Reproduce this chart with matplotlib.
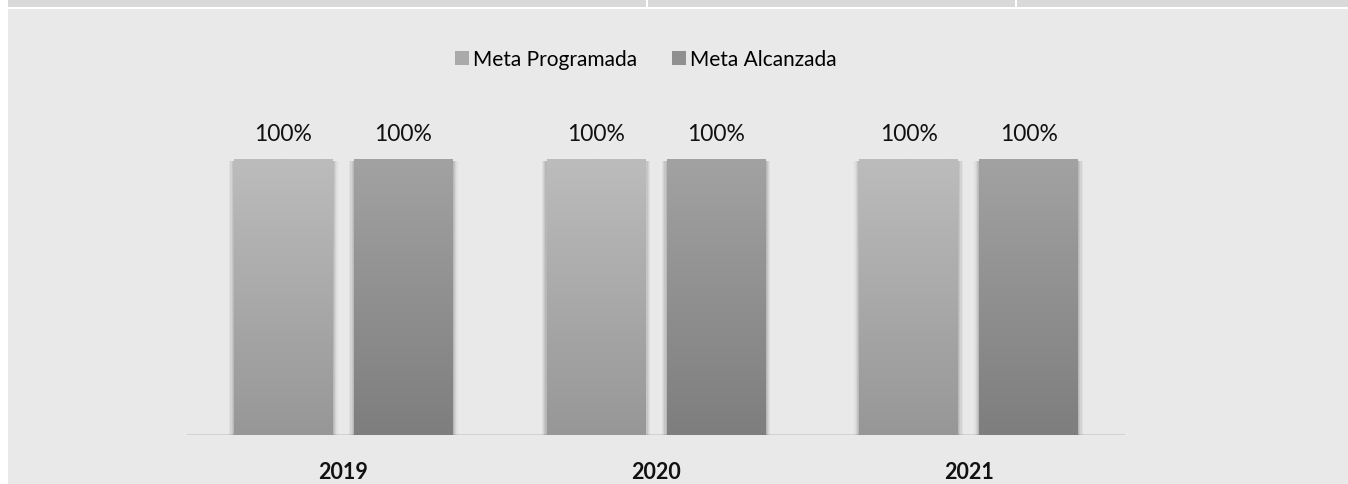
import numpy as np
import matplotlib.pyplot as plt
from matplotlib.patches import Rectangle

# ---- data ----
years = ["2019", "2020", "2021"]
series_names = ["Meta Programada", "Meta Alcanzada"]
meta_programada = [1.00, 1.00, 1.00]
meta_alcanzada = [1.00, 1.00, 1.00]
value_labels = ["100%", "100%", "100%"]

# gradient colours (top, bottom) per series
grad_colors = [("#bcbcbc", "#979797"), ("#a2a2a2", "#7e7e7e")]

plt.rcParams['font.family'] = ['Lato', 'DejaVu Sans']

W, H = 1348, 485
fig = plt.figure(figsize=(W / 100, H / 100), dpi=100)
fig.patch.set_facecolor("white")

# page decoration: table strip on top and the chart background
def px_rect(x0, y0, x1, y1, color, z=-10):
    fig.patches.append(Rectangle((x0 / W, 1 - y1 / H), (x1 - x0) / W, (y1 - y0) / H,
                                 transform=fig.transFigure, facecolor=color,
                                 edgecolor="none", zorder=z))

px_rect(8, 0, 1348, 8, "#d9d9d9")
px_rect(646, 0, 648, 8, "white", z=-9)
px_rect(1015, 0, 1017, 8, "white", z=-9)
px_rect(8, 10, 1348, 485, "#e9e9e9")

ax = fig.add_axes([187 / W, (H - 436) / H, 938 / W, (436 - 104.8) / H])
ax.set_facecolor("none")
ax.set_zorder(5)

x = np.arange(len(years))
width = 0.315
offsets = [-0.192, 0.192]

def gradient_bar(xc, h, top, bottom):
    x0, x1 = xc - width / 2, xc + width / 2
    # soft shadow
    for i, a in enumerate([0.04, 0.05, 0.06, 0.07]):
        d = 0.004 * (4 - i)
        ax.add_patch(Rectangle((x0 - d, -0.012), (x1 - x0) + 2 * d, h + 0.006,
                               facecolor="black", alpha=a, edgecolor="none", zorder=1))
    c0 = np.array(plt.matplotlib.colors.to_rgb(top))
    c1 = np.array(plt.matplotlib.colors.to_rgb(bottom))
    t = np.linspace(0, 1, 128)[:, None]
    img = (c0 * (1 - t) + c1 * t)[:, None, :]
    ax.imshow(img, extent=[x0, x1, 0, h], origin="upper", aspect="auto", zorder=2)

for s, vals in enumerate([meta_programada, meta_alcanzada]):
    for i, v in enumerate(vals):
        xc = x[i] + offsets[s]
        gradient_bar(xc, v, *grad_colors[s])
        ax.annotate(value_labels[i], (xc, v), xytext=(0, 11), textcoords="offset points",
                    ha="center", va="bottom", fontsize=16.5, color="#111111")

ax.set_xlim(-0.5, 2.5)
ax.set_ylim(0, 1.2)
ax.axhline(0, color="#d2d2d2", lw=1.5, zorder=0.5)

for sp in ax.spines.values():
    sp.set_visible(False)
ax.set_yticks([])
ax.set_xticks(x)
ax.set_xticklabels(years, fontsize=15.5, fontweight="bold", color="#111111")
ax.tick_params(axis="x", length=0, pad=19)

handles = [Rectangle((0, 0), 1, 1, facecolor=c, edgecolor="none") for c in ["#aaaaaa", "#909090"]]
fig.legend(handles, series_names, loc="center", bbox_to_anchor=(646 / W, 1 - 60 / H),
           ncol=2, frameon=False, fontsize=15, handlelength=0.65, handleheight=0.65,
           handletextpad=0.2, columnspacing=1.7)

fig.savefig("out.png", dpi=100, facecolor=fig.get_facecolor())
